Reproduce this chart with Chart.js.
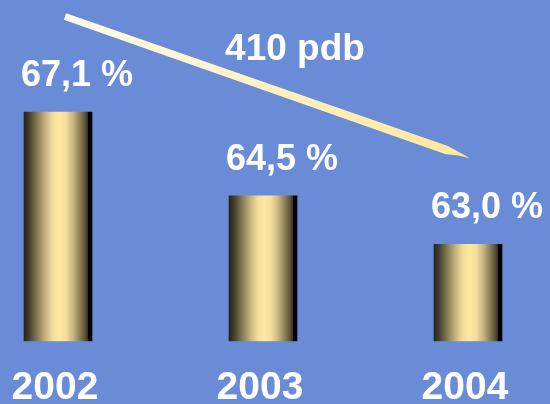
<!DOCTYPE html>
<html>
<head>
<meta charset="utf-8">
<script src="https://cdn.jsdelivr.net/npm/chart.js@4.4.0/dist/chart.umd.min.js"></script>
<style>
  html, body { margin: 0; padding: 0; background: #6A8CD6; }
  #wrap { width: 550px; height: 404px; }
</style>
</head>
<body>
<div id="wrap"><canvas id="c" width="550" height="404"></canvas></div>
<script>
const categories = ['2002', '2003', '2004'];
const shares = [67.1, 64.5, 63.0];
const shareLabels = ['67,1 %', '64,5 %', '63,0 %'];
const yRange = [60, 70];
const arrowFrom = [0.034, 70.06];
const arrowTo = [2.01, 65.67];
const arrowCaption = '410 pdb';
const arrowCaptionAt = [1.156, 68.71];

const FONT = "'Liberation Sans', Arial, sans-serif";
const BAR_W = 68;

function barGradient(c) {
  const chart = c.chart;
  const { ctx, chartArea, scales } = chart;
  if (!chartArea || !scales.x) return '#e8d590';
  const xc = scales.x.getPixelForValue(c.dataIndex);
  const g = ctx.createLinearGradient(xc - BAR_W / 2, 0, xc + BAR_W / 2, 0);
  g.addColorStop(0.00, '#25231a');
  g.addColorStop(0.08, '#47412d');
  g.addColorStop(0.20, '#8a7d56');
  g.addColorStop(0.32, '#c8b57e');
  g.addColorStop(0.42, '#f1dc99');
  g.addColorStop(0.52, '#ffe9a2');
  g.addColorStop(0.62, '#f3de9b');
  g.addColorStop(0.72, '#c9b683');
  g.addColorStop(0.82, '#8e8056');
  g.addColorStop(0.90, '#5a5137');
  g.addColorStop(0.935, '#3b3424');
  g.addColorStop(0.94, '#000000');
  g.addColorStop(1.00, '#000000');
  return g;
}

const overlay = {
  id: 'overlay',
  afterDraw(chart) {
    const { ctx, scales } = chart;
    const xs = scales.x, ys = scales.y;
    ctx.save();
    ctx.fillStyle = '#ffffff';
    ctx.font = 'bold 36px ' + FONT;
    ctx.textAlign = 'left';
    ctx.textBaseline = 'alphabetic';
    const meta = chart.getDatasetMeta(0);
    meta.data.forEach((bar, i) => {
      ctx.fillText(shareLabels[i], bar.x - bar.width / 2 - 3, bar.y - 26);
    });
    const x0 = xs.getPixelForValue(arrowFrom[0]), y0 = ys.getPixelForValue(arrowFrom[1]);
    const x1 = xs.getPixelForValue(arrowTo[0]), y1 = ys.getPixelForValue(arrowTo[1]);
    const dx = x1 - x0, dy = y1 - y0, len = Math.hypot(dx, dy);
    const ux = dx / len, uy = dy / len;
    const nx = -uy, ny = ux;
    const w0 = 7, w1 = 8.5, tipLen = 25;
    const pts = [
      [x0 - nx * w0 / 2, y0 - ny * w0 / 2],
      [x1 - ux * tipLen - nx * w1 / 2, y1 - uy * tipLen - ny * w1 / 2],
      [x1, y1],
      [x1 - ux * 12 + nx * w1 / 2 * 0.3, y1 - uy * 12 + ny * w1 / 2 * 0.3],
      [x1 - ux * tipLen + nx * w1 / 2, y1 - uy * tipLen + ny * w1 / 2],
      [x0 + nx * w0 / 2, y0 + ny * w0 / 2]
    ];
    const g = ctx.createLinearGradient(x0, y0, x1, y1);
    g.addColorStop(0, '#fffbea');
    g.addColorStop(1, '#ffe79c');
    ctx.fillStyle = g;
    ctx.beginPath();
    pts.forEach((p, i) => i ? ctx.lineTo(p[0], p[1]) : ctx.moveTo(p[0], p[1]));
    ctx.closePath();
    ctx.fill();
    ctx.fillStyle = '#ffffff';
    ctx.font = 'bold 37px ' + FONT;
    ctx.textAlign = 'center';
    ctx.fillText(arrowCaption, xs.getPixelForValue(arrowCaptionAt[0]), ys.getPixelForValue(arrowCaptionAt[1]));
    ctx.restore();
  }
};

new Chart(document.getElementById('c'), {
  type: 'bar',
  data: {
    labels: categories,
    datasets: [{
      data: shares,
      base: yRange[0],
      backgroundColor: barGradient,
      borderWidth: 0,
      barThickness: BAR_W,
      clip: false
    }]
  },
  options: {
    responsive: false,
    animation: false,
    devicePixelRatio: 1,
    layout: { padding: { left: 58, right: 82, top: 18.5, bottom: 0 } },
    plugins: { legend: { display: false }, tooltip: { enabled: false } },
    scales: {
      x: {
        type: 'category',
        offset: false,
        grid: { display: false, drawTicks: false },
        border: { display: false },
        afterFit(scale) { scale.height = 63; },
        ticks: {
          color: '#ffffff',
          font: { family: FONT, size: 39, weight: 'bold', lineHeight: 1.923 },
          padding: 10,
          labelOffset: -3,
          maxRotation: 0,
          autoSkip: false
        }
      },
      y: {
        display: false,
        min: yRange[0],
        max: yRange[1]
      }
    }
  },
  plugins: [overlay]
});
</script>
</body>
</html>
